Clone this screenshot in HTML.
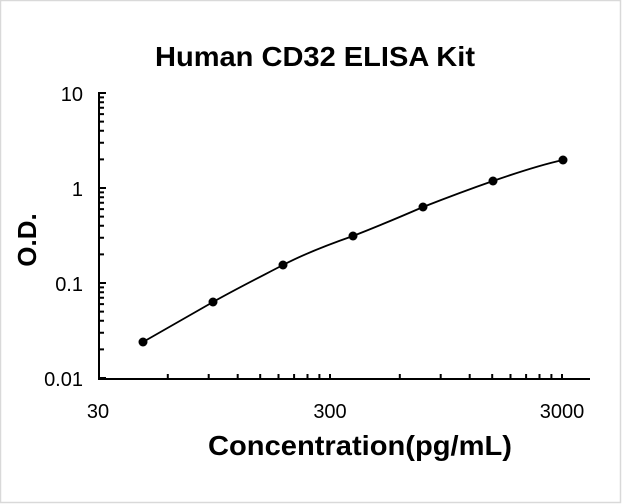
<!DOCTYPE html><html><head><style>body{margin:0;background:#fff}svg{display:block}text{font-family:"Liberation Sans",Arial,sans-serif}</style></head><body>
<svg width="622" height="504" xmlns="http://www.w3.org/2000/svg">
<rect x="0.5" y="0.5" width="620" height="502" fill="#fff" stroke="#d9d9d9" stroke-width="1.5"/>
<text x="315" y="66" font-size="28" font-weight="bold" text-anchor="middle" textLength="320" lengthAdjust="spacingAndGlyphs">Human CD32 ELISA Kit</text>
<g stroke="#000" stroke-width="2" fill="none">
<path d="M99 92V379H590"/>
<path d="M99 93h7M99 188h7M99 283h7M99 378h7
M99 159.4h5M99 142.7h5M99 130.8h5M99 121.6h5M99 114.1h5M99 107.7h5M99 102.2h5M99 97.4h5
M99 254.4h5M99 237.7h5M99 225.8h5M99 216.6h5M99 209.1h5M99 202.7h5M99 197.2h5M99 192.4h5
M99 349.4h5M99 332.7h5M99 320.8h5M99 311.6h5M99 304.1h5M99 297.7h5M99 292.2h5M99 287.4h5"/>
<path d="M167.8 379v-5M208.7 379v-5M237.7 379v-5M260.2 379v-5M278.5 379v-5M294.1 379v-5M307.5 379v-5M319.4 379v-5M330 379v-5
M399.8 379v-5M440.7 379v-5M469.7 379v-5M492.2 379v-5M510.5 379v-5M526.1 379v-5M539.5 379v-5M551.4 379v-5M562 379v-5"/>
<path stroke-width="1.8" d="M143 342 C166 329,190 315,213 302 C236 289,260 277,283 265 C306 253,330 244,353 236 C376 227,400 217,423 207 C446 198,470 189,493 181 C516 173,540 165,563 160"/>
</g>
<g fill="#000">
<circle cx="143" cy="342" r="4.5"/><circle cx="213" cy="302" r="4.5"/><circle cx="283" cy="265" r="4.5"/><circle cx="353" cy="236" r="4.5"/><circle cx="423" cy="207" r="4.5"/><circle cx="493" cy="181" r="4.5"/><circle cx="563" cy="160" r="4.5"/>
</g>
<g font-size="20" text-anchor="end">
<text x="83" y="101">10</text><text x="83" y="196">1</text><text x="83" y="291">0.1</text><text x="83" y="386">0.01</text>
</g>
<g font-size="20" text-anchor="middle">
<text x="98" y="418">30</text><text x="330" y="418">300</text><text x="562" y="418">3000</text>
</g>
<text x="360" y="455" font-size="28" font-weight="bold" text-anchor="middle" textLength="304" lengthAdjust="spacingAndGlyphs">Concentration(pg/mL)</text>
<text transform="translate(36 240) rotate(-90)" font-size="26" font-weight="bold" text-anchor="middle">O.D.</text>
</svg>
</body></html>
